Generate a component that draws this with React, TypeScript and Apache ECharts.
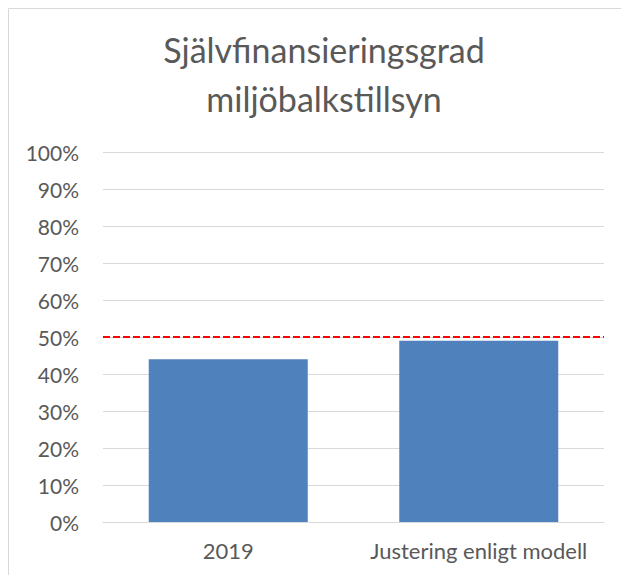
import React, { useEffect, useRef } from "react";
import * as echarts from "echarts";

const categories = ["2019", "Justering enligt modell"];
const values = [44, 49];
const targetLevel = 50;
const yTicks = { min: 0, max: 100, interval: 10 };
const titleLines = ["Självfinansieringsgrad", "miljöbalkstillsyn"];

export default function App() {
  const ref = useRef<HTMLDivElement>(null);
  useEffect(() => {
    const chart = echarts.init(ref.current!, null, { renderer: "svg" });
    const font = "Lato, 'Open Sans', sans-serif";
    chart.setOption({
      animation: false,
      backgroundColor: "#ffffff",
      title: {
        text: titleLines.join("\n"),
        left: 319,
        top: 20,
        textAlign: "center",
        textStyle: {
          fontFamily: font,
          fontSize: 34,
          fontWeight: "normal",
          color: "#595959",
          lineHeight: 49,
        },
      },
      graphic: [
        {
          type: "rect",
          shape: { x: 8.5, y: 8.5, width: 700, height: 700 },
          style: { fill: "none", stroke: "#d9d9d9", lineWidth: 1 },
          silent: true,
        },
      ],
      grid: { left: 103, right: 17, top: 152, bottom: 53 },
      xAxis: {
        type: "category",
        data: categories,
        axisLine: { show: true, lineStyle: { color: "#d9d9d9", width: 1 } },
        axisTick: { show: false },
        axisLabel: {
          interval: 0,
          hideOverlap: false,
          color: "#595959",
          fontFamily: font,
          fontSize: 22,
          margin: 17,
        },
      },
      yAxis: {
        type: "value",
        min: yTicks.min,
        max: yTicks.max,
        interval: yTicks.interval,
        axisLine: { show: false },
        axisTick: { show: false },
        splitLine: { lineStyle: { color: "#d9d9d9", width: 1 } },
        axisLabel: {
          formatter: "{value}%",
          color: "#595959",
          fontFamily: font,
          fontSize: 21,
          margin: 24,
        },
      },
      series: [
        {
          type: "bar",
          data: values,
          barWidth: 159,
          itemStyle: { color: "#4f81bd" },
          markLine: {
            silent: true,
            symbol: "none",
            label: { show: false },
            lineStyle: { color: "#ff0000", type: [7, 3], width: 2 },
            data: [{ yAxis: targetLevel }],
          },
        },
      ],
    });
    return () => chart.dispose();
  }, []);
  return (
    <div
      style={{
        position: "fixed",
        left: 0,
        top: 0,
        width: 621,
        height: 575,
        overflow: "hidden",
        background: "#fff",
      }}
    >
      <div ref={ref} style={{ width: 621, height: 575 }} />
    </div>
  );
}
